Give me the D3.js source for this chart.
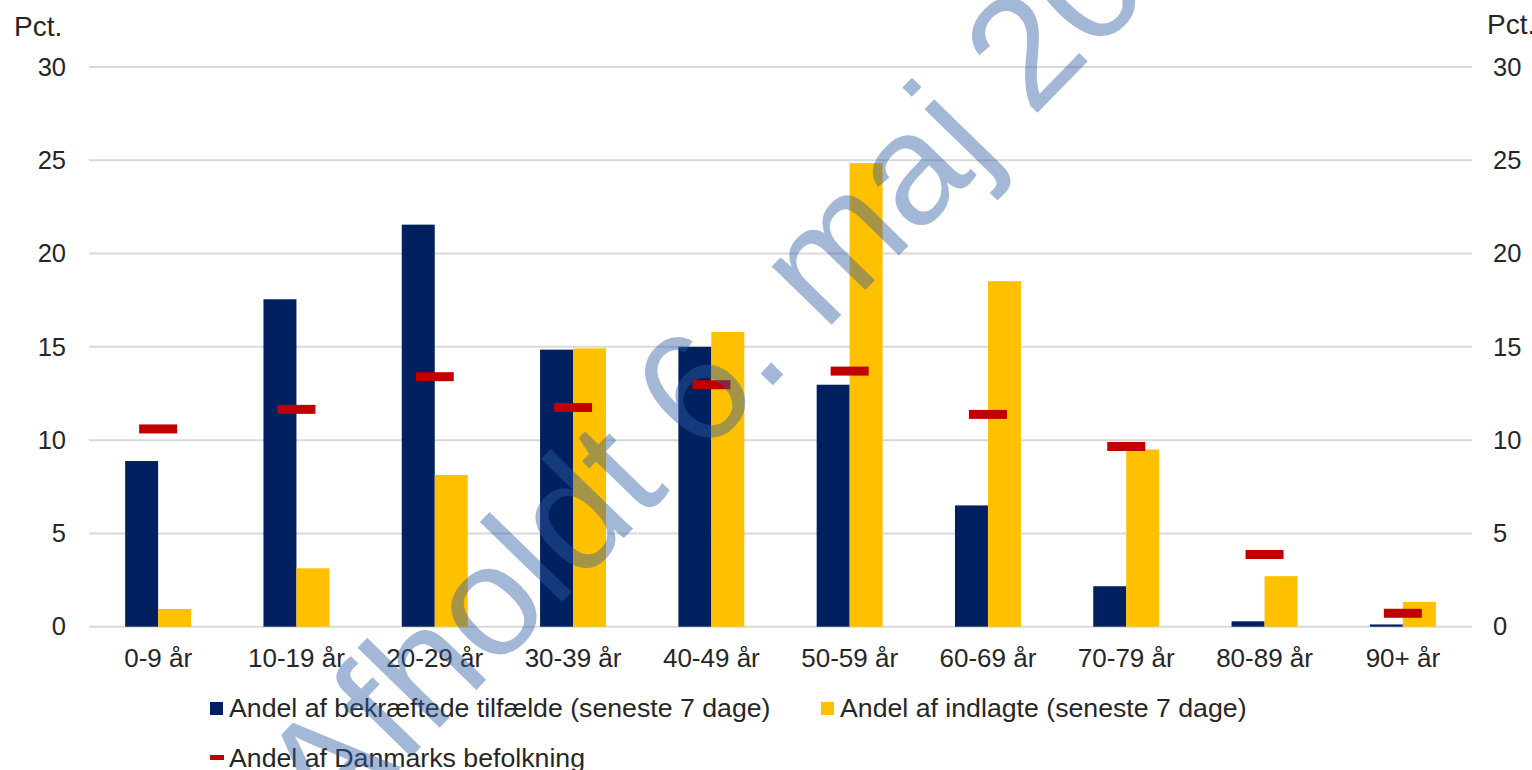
<!DOCTYPE html>
<html>
<head>
<meta charset="utf-8">
<script src="https://cdn.jsdelivr.net/npm/d3@7"></script>
<style>
  body { margin: 0; background: #fff; }
  text { font-family: "Liberation Sans", Arial, sans-serif; fill: #262626; }
</style>
</head>
<body>
<script>
// Data
var ageGroups = ["0-9 år", "10-19 år", "20-29 år", "30-39 år", "40-49 år",
  "50-59 år", "60-69 år", "70-79 år", "80-89 år", "90+ år"];
var casesShare = [8.88, 17.55, 21.55, 14.85, 15.0, 12.97, 6.5, 2.17, 0.29, 0.12];
var admittedShare = [0.95, 3.13, 8.13, 14.92, 15.8, 24.85, 18.52, 9.5, 2.71, 1.33];
var populationShare = [10.6, 11.65, 13.4, 11.75, 12.97, 13.7, 11.38, 9.66, 3.87, 0.72];
var yTicks = [0, 5, 10, 15, 20, 25, 30];
var legendLabels = ["Andel af bekræftede tilfælde (seneste 7 dage)",
  "Andel af indlagte (seneste 7 dage)", "Andel af Danmarks befolkning"];

// Define svg size
var svgWidth = 1532;
var svgHeight = 770;

// plot area
var margin = { top: 67, right: 60, bottom: 143, left: 89 };
var width = svgWidth - margin.left - margin.right;
var height = 626.7 - margin.top;

var colors = { cases: "#002060", admitted: "#FFC000", pop: "#C00000" };

var svg = d3.select("body")
  .append("svg")
  .attr("width", svgWidth)
  .attr("height", svgHeight);

var chartGroup = svg.append("g")
  .attr("transform", `translate(${margin.left}, ${margin.top})`);

// scales
var xScale = d3.scaleBand()
  .domain(ageGroups)
  .range([0, width])
  .paddingInner(0.523)
  .paddingOuter(0.2615);

var xInner = d3.scaleBand()
  .domain(["cases", "admitted"])
  .range([0, xScale.bandwidth()]);

var yScale = d3.scaleLinear()
  .domain([0, 30])
  .range([height, 0]);

// gridlines
chartGroup.append("g")
  .selectAll("line")
  .data(yTicks)
  .enter()
  .append("line")
  .attr("x1", 0)
  .attr("x2", width)
  .attr("y1", d => yScale(d))
  .attr("y2", d => yScale(d))
  .attr("stroke", "#d9d9d9")
  .attr("stroke-width", 2);

// left and right axes (text only)
var leftAxis = d3.axisLeft(yScale).tickValues(yTicks).tickSize(0).tickPadding(23);
var rightAxis = d3.axisRight(yScale).tickValues(yTicks).tickSize(0).tickPadding(21);

var yAxisL = chartGroup.append("g").call(leftAxis);
var yAxisR = chartGroup.append("g")
  .attr("transform", `translate(${width}, 0)`)
  .call(rightAxis);

[yAxisL, yAxisR].forEach(function(ax) {
  ax.select(".domain").remove();
  ax.selectAll("text")
    .attr("font-size", 25.5)
    .attr("font-family", null)
    .attr("fill", "#262626");
});

// bars
var rows = ageGroups.map(function(g, i) {
  return { group: g, cases: casesShare[i], admitted: admittedShare[i], pop: populationShare[i] };
});

["cases", "admitted"].forEach(function(key) {
  chartGroup.append("g")
    .selectAll("rect")
    .data(rows)
    .enter()
    .append("rect")
    .attr("x", d => xScale(d.group) + xInner(key))
    .attr("y", d => yScale(d[key]))
    .attr("width", xInner.bandwidth())
    .attr("height", d => height - yScale(d[key]))
    .attr("fill", colors[key]);
});

// population markers
var markerW = 38;
var markerH = 9;
chartGroup.append("g")
  .selectAll("rect")
  .data(rows)
  .enter()
  .append("rect")
  .attr("x", d => xScale(d.group) + xScale.bandwidth() / 2 - markerW / 2)
  .attr("y", d => yScale(d.pop) - markerH / 2)
  .attr("width", markerW)
  .attr("height", markerH)
  .attr("fill", colors.pop);

// category labels
var bottomAxis = d3.axisBottom(xScale).tickSize(0).tickPadding(22);
var xAxis = chartGroup.append("g")
  .attr("transform", `translate(0, ${height})`)
  .call(bottomAxis);
xAxis.select(".domain").remove();
xAxis.selectAll("text")
  .attr("font-size", 26)
  .attr("font-family", null)
  .attr("fill", "#262626");

// unit labels
svg.append("text").attr("x", 14).attr("y", 36).attr("font-size", 28).text("Pct.");
svg.append("text").attr("x", 1487).attr("y", 34).attr("font-size", 28).text("Pct.");

// legend
var legend = svg.append("g");
legend.append("rect").attr("x", 210).attr("y", 702).attr("width", 13).attr("height", 13).attr("fill", colors.cases);
legend.append("text").attr("x", 229).attr("y", 717).attr("font-size", 26.7).text(legendLabels[0]);
legend.append("rect").attr("x", 821).attr("y", 702).attr("width", 13).attr("height", 13).attr("fill", colors.admitted);
legend.append("text").attr("x", 840).attr("y", 717).attr("font-size", 26.7).text(legendLabels[1]);
legend.append("rect").attr("x", 210).attr("y", 755).attr("width", 14).attr("height", 5).attr("fill", colors.pop);
legend.append("text").attr("x", 229).attr("y", 767).attr("font-size", 26.7).text(legendLabels[2]);

// watermark
svg.append("text")
  .attr("transform", "translate(328, 842.5) rotate(-45.8)")
  .attr("font-size", 158)
  .style("fill", "#2e5ca1")
  .style("fill-opacity", 0.44)
  .text("Afholdt 6. maj 2021");
</script>
</body>
</html>
